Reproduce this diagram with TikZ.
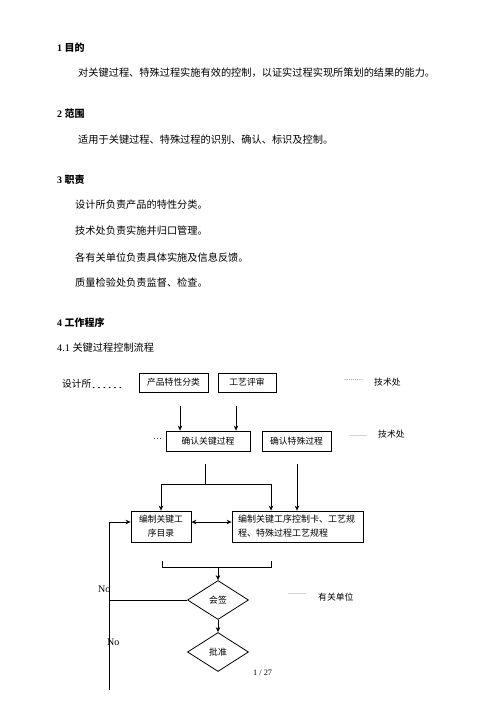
\documentclass[tikz,border=0pt]{standalone}
\usepackage{fontspec}
\setmainfont{Liberation Serif}
\newfontfamily\cjk{Noto Sans CJK SC}
\usetikzlibrary{arrows.meta,shapes.geometric}
\begin{document}
\begin{tikzpicture}[x=1pt,y=-1pt,
  txt/.style={anchor=west,inner sep=0pt,font=\cjk\fontsize{10.2}{12}\selectfont},
  head/.style={anchor=west,inner sep=0pt,font=\bfseries\fontsize{10}{12}\selectfont},
  ftxt/.style={font=\cjk\fontsize{8.8}{14}\selectfont},
  lbl/.style={anchor=west,inner sep=0pt,font=\cjk\fontsize{8.8}{12}\selectfont},
  dots/.style={anchor=base west,inner sep=0pt,font=\fontsize{6}{8}\selectfont},
  latin/.style={anchor=west,inner sep=0pt,font=\fontsize{10}{12}\selectfont},
  box/.style={draw,line width=0.8pt,inner sep=0pt,ftxt},
  dia/.style={draw,diamond,line width=0.8pt,inner sep=0pt,ftxt},
  ln/.style={line width=0.8pt},
  arr/.style={line width=0.8pt,-{Stealth[length=5pt,width=4.5pt]}},
  arrb/.style={line width=0.8pt,{Stealth[length=5pt,width=4.5pt]}-{Stealth[length=5pt,width=4.5pt]}},
]
\useasboundingbox (0,0) rectangle (496,702);
\fill[white] (0,0) rectangle (496,702);

% sections
\node[head] (h1) at (57,48) {1 {\cjk 目的}};
\node[txt] (t1) at (78,73) {对关键过程、特殊过程实施有效的控制，以证实过程实现所策划的结果的能力。};
\node[head] (h2) at (57,114) {2 {\cjk 范围}};
\node[txt] (t2) at (78,140) {适用于关键过程、特殊过程的识别、确认、标识及控制。};
\node[head] (h3) at (57,180) {3 {\cjk 职责}};
\node[txt] (t3a) at (75,205) {设计所负责产品的特性分类。};
\node[txt] (t3b) at (75,231) {技术处负责实施并归口管理。};
\node[txt] (t3c) at (75,258) {各有关单位负责具体实施及信息反馈。};
\node[txt] (t3d) at (75,283) {质量检验处负责监督、检查。};
\node[head] (h4) at (57,323) {4 {\cjk 工作程序}};
\node[anchor=west,inner sep=0pt,font=\fontsize{10.2}{12}\selectfont] (h41) at (57,348) {4.1 {\cjk 关键过程控制流程}};

% flowchart boxes
\node[box,minimum width=69pt,minimum height=19pt] (b1) at (173.5,382.5) {产品特性分类};
\node[box,minimum width=58pt,minimum height=19pt] (b2) at (247,382.5) {工艺评审};
\node[box,minimum width=84pt,minimum height=20pt] (b3) at (208,441) {确认关键过程};
\node[box,minimum width=69pt,minimum height=20pt] (b4) at (296.5,441) {确认特殊过程};
\node[box,minimum width=60pt,minimum height=31pt,align=center] (b5) at (161,526.5) {编制关键工\\序目录};
\node[box,minimum width=131pt,minimum height=31pt,text width=119pt,align=left,font=\cjk\fontsize{9}{14}\selectfont] (b6) at (297.5,526.5) {编制关键工序控制卡、工艺规\\程、特殊过程工艺规程};
\node[dia,minimum width=61pt,minimum height=39pt] (d1) at (218,600) {会签};
\node[dia,minimum width=61pt,minimum height=39pt] (d2) at (218,652) {批准};

% side labels
\node[anchor=west,inner sep=0pt,font=\cjk\fontsize{9.7}{12}\selectfont] (sjs) at (62,384) {设计所};
\node[anchor=base west,inner sep=0pt,font=\fontsize{10}{12}\selectfont] (sjsd) at (91,388) {\scalebox{1.6}[1]{……}};
\node[dots,font=\fontsize{6.3}{8}\selectfont] (dt1) at (344,380) {………};
\node[lbl] (js1) at (374,382) {技术处};
\node[anchor=base west,inner sep=0pt,font=\fontsize{9}{12}\selectfont] (el) at (153,439) {…};
\node[dots] (dt2) at (349,436) {………};
\node[lbl] (js2) at (378,434) {技术处};
\node[dots] (dt3) at (288,594) {………};
\node[lbl] (yg) at (318,597) {有关单位};
\node[latin] (no1) at (98,589) {No};
\node[latin] (no2) at (107,642) {No};
\node[anchor=west,inner sep=0pt,font=\fontsize{8.3}{10}\selectfont] (pg) at (253,673) {1 / 27};

% connectors
\coordinate (a1s) at (180,406);
\coordinate (a2s) at (236,406);
\draw[arr] (a1s) -- (a1s |- b3.north);
\draw[arr] (a2s) -- (a2s |- b3.north);
\coordinate (l1s) at (205,464);
\coordinate (l1e) at (205,484);
\coordinate (hl) at (161,484);
\coordinate (hr) at (271,484);
\draw[ln] (l1s) -- (l1e);
\draw[ln] (hl) -- (hr);
\draw[arr] (hl) -- (hl |- b5.north);
\draw[arr] (hr) -- (hr |- b6.north);
\coordinate (l2s) at (297,464);
\draw[arr] (l2s) -- (l2s |- b6.north);
\coordinate (b5e) at ([yshift=4.5pt]b5.east);
\coordinate (b6w) at ([yshift=4.5pt]b6.west);
\coordinate (b5w) at ([yshift=4.5pt]b5.west);
\draw[arrb] (b5e) -- (b6w);
\coordinate (bl) at (162,561);
\coordinate (br) at (271,561);
\coordinate (bm) at (218,567);
\draw[ln] (bl) -- (bl |- bm) -- (br |- bm) -- (br);
\draw[arr] (bm) -- (d1.north);
\draw[arr] (d1.south) -- (d2.north);
\coordinate (fb) at (109,690);
\draw[arr] (fb) -- (fb |- b5w) -- (b5w);
\draw[ln] (d1.west) -- (d1.west -| fb);
\end{tikzpicture}
\end{document}
